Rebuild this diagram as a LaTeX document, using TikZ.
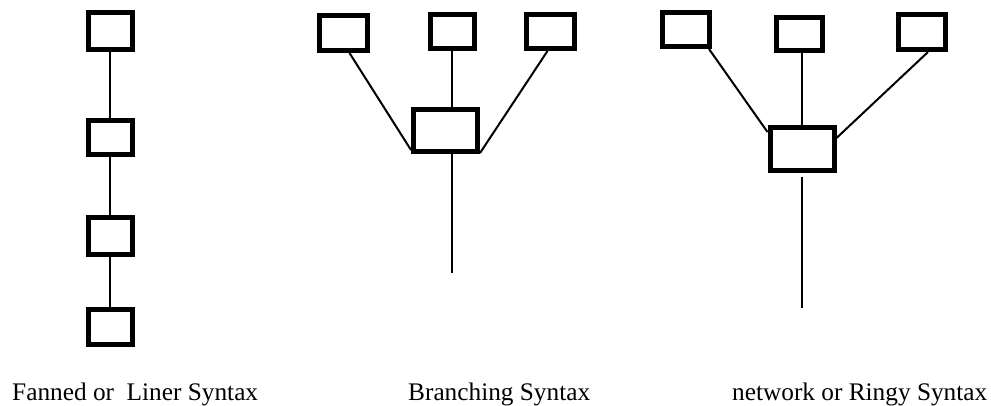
\documentclass[tikz,border=0pt]{standalone}
\usepackage{fontspec}
\setmainfont{Liberation Serif}
\usepackage{tikz}
\usetikzlibrary{positioning,calc}

\begin{document}
\begin{tikzpicture}[x=1pt,y=-1pt,
    synbox/.style={draw,line width=5pt,inner sep=0pt,minimum width=#1},
    synbox/.default=47,
    link/.style={line width=2pt},
    caption/.style={font=\fontsize{25.3}{30}\selectfont,anchor=base west,inner sep=0pt}]
  \useasboundingbox (0,0) rectangle (991,405);
  % linear
  \node[synbox=44,minimum height=37] (l1) at (110,31) {};
  \node[synbox=44,minimum height=34] (l2) at (110,137.5) {};
  \node[synbox=44,minimum height=37] (l3) at (110,236) {};
  \node[synbox=44,minimum height=35] (l4) at (110,327) {};
  \draw[link] (l1) -- (l2);
  \draw[link] (l2) -- (l3);
  \draw[link] (l3) -- (l4);
  % branching
  \node[synbox=48,minimum height=35] (bA) at (343.5,33) {};
  \node[synbox=44,minimum height=34] (bB) at (452,31.5) {};
  \node[synbox=48,minimum height=34] (bC) at (550.5,31.5) {};
  \node[synbox=64,minimum height=42] (bM) at (445.5,130.5) {};
  \coordinate (bEnd) at (452,273);
  \draw[link] ([xshift=6]bA.south) -- ([yshift=4]bM.south west);
  \draw[link] (bB.south) -- (bB.south |- bM.north);
  \draw[link] ([xshift=-3]bC.south) -- ([yshift=1]bM.south east);
  \draw[link] (bB.south |- bM.south) -- (bEnd);
  % network
  \node[synbox=47,minimum height=34] (nD) at (686,29.5) {};
  \node[synbox=46,minimum height=33] (nE) at (799,34) {};
  \node[synbox=47,minimum height=35] (nF) at (922,32) {};
  \node[synbox=64,minimum height=43] (nM) at (802,149) {};
  \coordinate (nEnd) at (802,308);
  \draw[link] ([xshift=23]nD.south) -- ([yshift=-7]nM.north west);
  \draw[link] (nM.north |- nE.south) -- (nM.north);
  \draw[link] ([xshift=6]nF.south) -- ([yshift=-13]nM.north east);
  \draw[link] ([yshift=-4]nM.south) -- (nEnd);
  % captions
  \node[caption] (capL) at (12,400) {Fanned or~ Liner Syntax};
  \node[caption] (capB) at (408,400) {Branching Syntax};
  \node[caption] (capN) at (732,400) {network or Ringy Syntax};
\end{tikzpicture}
\end{document}
